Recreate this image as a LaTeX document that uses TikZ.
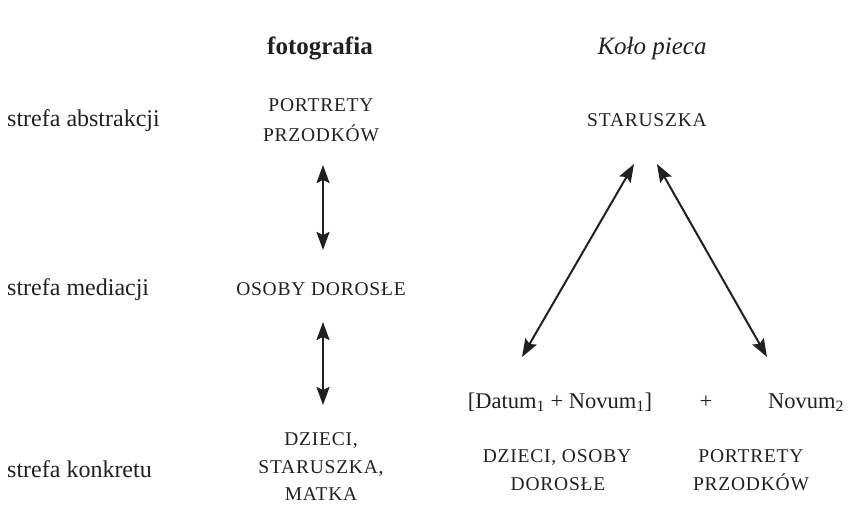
\documentclass[tikz,border=0pt]{standalone}
\usepackage{fontspec}
\setmainfont{Liberation Serif}
\usetikzlibrary{arrows.meta}
\definecolor{ink}{HTML}{231F20}
\tikzset{
  lbl/.style={anchor=base west, inner sep=0pt, text=ink, font=\fontsize{24}{28}\selectfont},
  txt/.style={anchor=base, inner sep=0pt, text=ink, font=\fontsize{22.5}{28}\selectfont},
  scap/.style={anchor=base, inner sep=0pt, text=ink, font=\fontsize{19.5}{22}\selectfont\addfontfeatures{LetterSpace=4}},
  arr/.style={draw=ink, line width=2pt,
    {Stealth[length=18pt,width=13pt,inset=3pt]}-{Stealth[length=18pt,width=13pt,inset=3pt]}}
}
\begin{document}
\begin{tikzpicture}[x=1pt,y=-1pt]
\useasboundingbox (0,0) rectangle (851,505);
% headers
\node[txt, font=\fontsize{25}{28}\selectfont\bfseries] (hfot) at (320,55) {fotografia};
\node[txt, font=\fontsize{25}{28}\selectfont\itshape] (hkolo) at (652,55) {Koło pieca};
% zone labels
\node[lbl] (zabs) at (7,127) {strefa abstrakcji};
\node[lbl] (zmed) at (7,295) {strefa mediacji};
\node[lbl] (zkon) at (7,477) {strefa konkretu};
% fotografia column
\node[scap] (fpa) at (321,112) {PORTRETY};
\node[scap] (fpb) at (321,142) {PRZODKÓW};
\node[scap] (fos) at (321,295) {OSOBY DOROSŁE};
\node[scap] (fda) at (321,445) {DZIECI,};
\node[scap] (fdb) at (321,473) {STARUSZKA,};
\node[scap] (fdc) at (321,500) {MATKA};
% Koło pieca column
\node[scap] (kst) at (647,127) {STARUSZKA};
\node[txt] (kdn) at (560,408) {[Datum\textsubscript{1} + Novum\textsubscript{1}]};
\node[txt] (kplus) at (706,408) {+};
\node[txt] (knov) at (806,408) {Novum\textsubscript{2}};
\node[scap] (kda) at (557,462) {DZIECI, OSOBY};
\node[scap] (kdb) at (558,490) {DOROSŁE};
\node[scap] (kpa) at (751,462) {PORTRETY};
\node[scap] (kpb) at (751,490) {PRZODKÓW};
% arrow end points
\coordinate (a1t) at (323,165);
\coordinate (a1b) at (323,250);
\coordinate (a2t) at (323,322);
\coordinate (a2b) at (323,405);
\coordinate (tl) at (634,164);
\coordinate (tr) at (657,164);
\coordinate (bl) at (522,357);
\coordinate (br) at (767,357);
% arrows
\draw[arr] (a1t) -- (a1b);
\draw[arr] (a2t) -- (a2b);
\draw[arr] (tl) -- (bl);
\draw[arr] (tr) -- (br);
\end{tikzpicture}
\end{document}
